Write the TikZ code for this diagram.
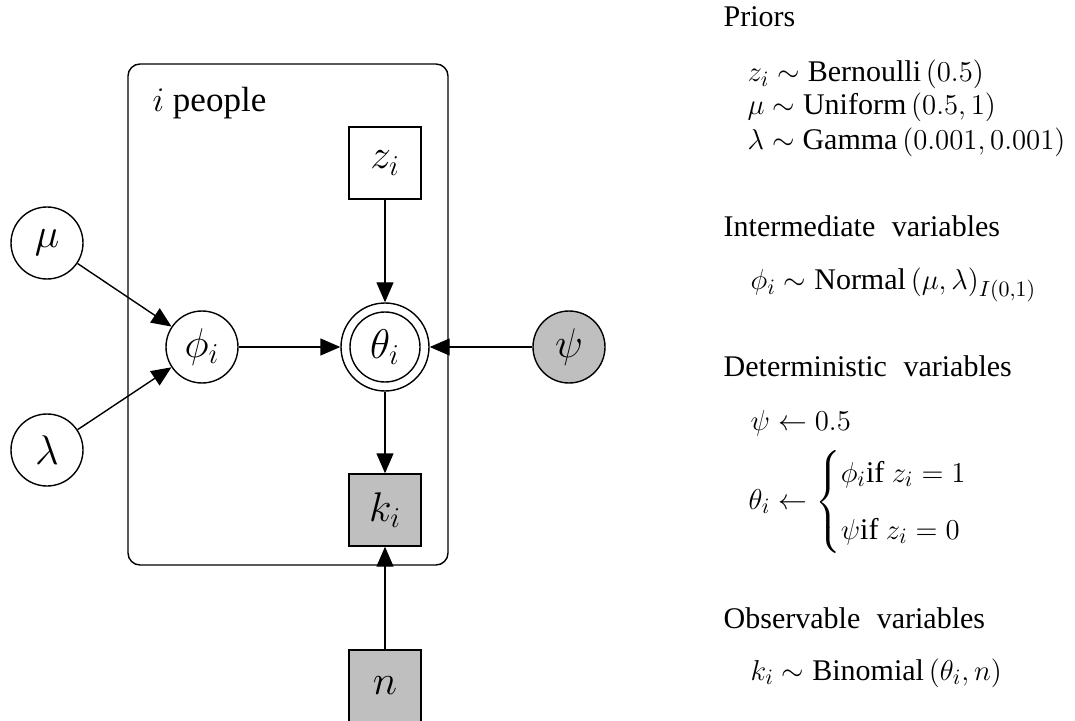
\documentclass[tikz,border=0pt]{standalone}
\usepackage{amsmath}
\usepackage[no-math]{fontspec}
\setmainfont{Liberation Serif}
\usetikzlibrary{arrows.meta}
\definecolor{obsgray}{HTML}{BFBFBF}
\begin{document}
\begin{tikzpicture}[x=0.5pt,y=-0.5pt,
  line width=0.7pt,
  >={Triangle[length=10pt,width=8.5pt]},
  nodefont/.style={font=\fontsize{20}{24}\selectfont},
  latent/.style={circle,draw,fill=white,minimum size=36pt,inner sep=0pt,nodefont},
  observed/.style={latent,fill=obsgray},
  constbox/.style={rectangle,draw,fill=white,minimum size=36pt,inner sep=0pt,nodefont},
  observedbox/.style={constbox,fill=obsgray},
  detnode/.style={circle,draw,fill=white,minimum size=44pt,inner sep=0pt,nodefont},
  platebox/.style={rectangle,draw,rounded corners=6pt,inner sep=0pt},
  edge/.style={->},
  spec/.style={anchor=base west,inner sep=0pt,font=\fontsize{15}{18}\selectfont},
]
\useasboundingbox (0,0) rectangle (1075,721);

% plate over the people
\node[platebox,minimum width=160pt,minimum height=250.5pt] (plate) at (288,314.5) {};
\node[anchor=base west,inner sep=0pt,font=\fontsize{17.5}{21}\selectfont] (platelabel) at (152,112) {$i$ people};

% variables
\node[latent] (mu) at (47,243) {$\mu$};
\node[latent] (lambda) at (47,450) {$\lambda$};
\node[latent] (phi) at (202,347) {$\phi_i$};
\node[detnode] (theta) at (385,347) {$\theta_i$};
\draw (theta.center) circle[radius=17.5pt];
\node[observed] (psi) at (569,347) {$\psi$};
\node[constbox] (z) at (385,163) {$z_i$};
\node[observedbox] (k) at (385,510) {$k_i$};
\node[observedbox] (n) at (385,686) {$n$};

% dependencies
\draw[edge] (mu) -- (phi);
\draw[edge] (lambda) -- (phi);
\draw[edge] (phi) -- (theta);
\draw[edge] (z) -- (theta);
\draw[edge] (psi) -- (theta);
\draw[edge] (theta) -- (k);
\draw[edge] (n) -- (k);

% model specification
\node[spec] (hpriors) at (723,27) {Priors};
\node[spec] (fz) at (747,82) {$z_i \sim \text{Bernoulli}\,(0.5)$};
\node[spec] (fmu) at (747,115) {$\mu \sim \text{Uniform}\,(0.5,1)$};
\node[spec] (flambda) at (747,150) {$\lambda \sim \text{Gamma}\,(0.001,0.001)$};

\node[spec] (hinter) at (723,237) {Intermediate\hspace{0.55em}variables};
\node[spec] (fphi) at (750,290) {$\phi_i \sim \text{Normal}\,(\mu,\lambda)_{I(0,1)}$};

\node[spec] (hdet) at (723,377) {Deterministic\hspace{0.55em}variables};
\node[spec] (fpsi) at (750,430) {$\psi \leftarrow 0.5$};
\node[anchor=west,inner sep=0pt,font=\fontsize{15}{18}\selectfont] (ftheta) at (748,502)
  {$\theta_i \leftarrow \begin{cases} \phi_i\text{if } z_i = 1 \\[7pt] \psi\text{if } z_i = 0 \end{cases}$};

\node[spec] (hobs) at (723,628) {Observable\hspace{0.55em}variables};
\node[spec] (fk) at (750,680) {$k_i \sim \text{Binomial}\,(\theta_i,n)$};
\end{tikzpicture}
\end{document}
